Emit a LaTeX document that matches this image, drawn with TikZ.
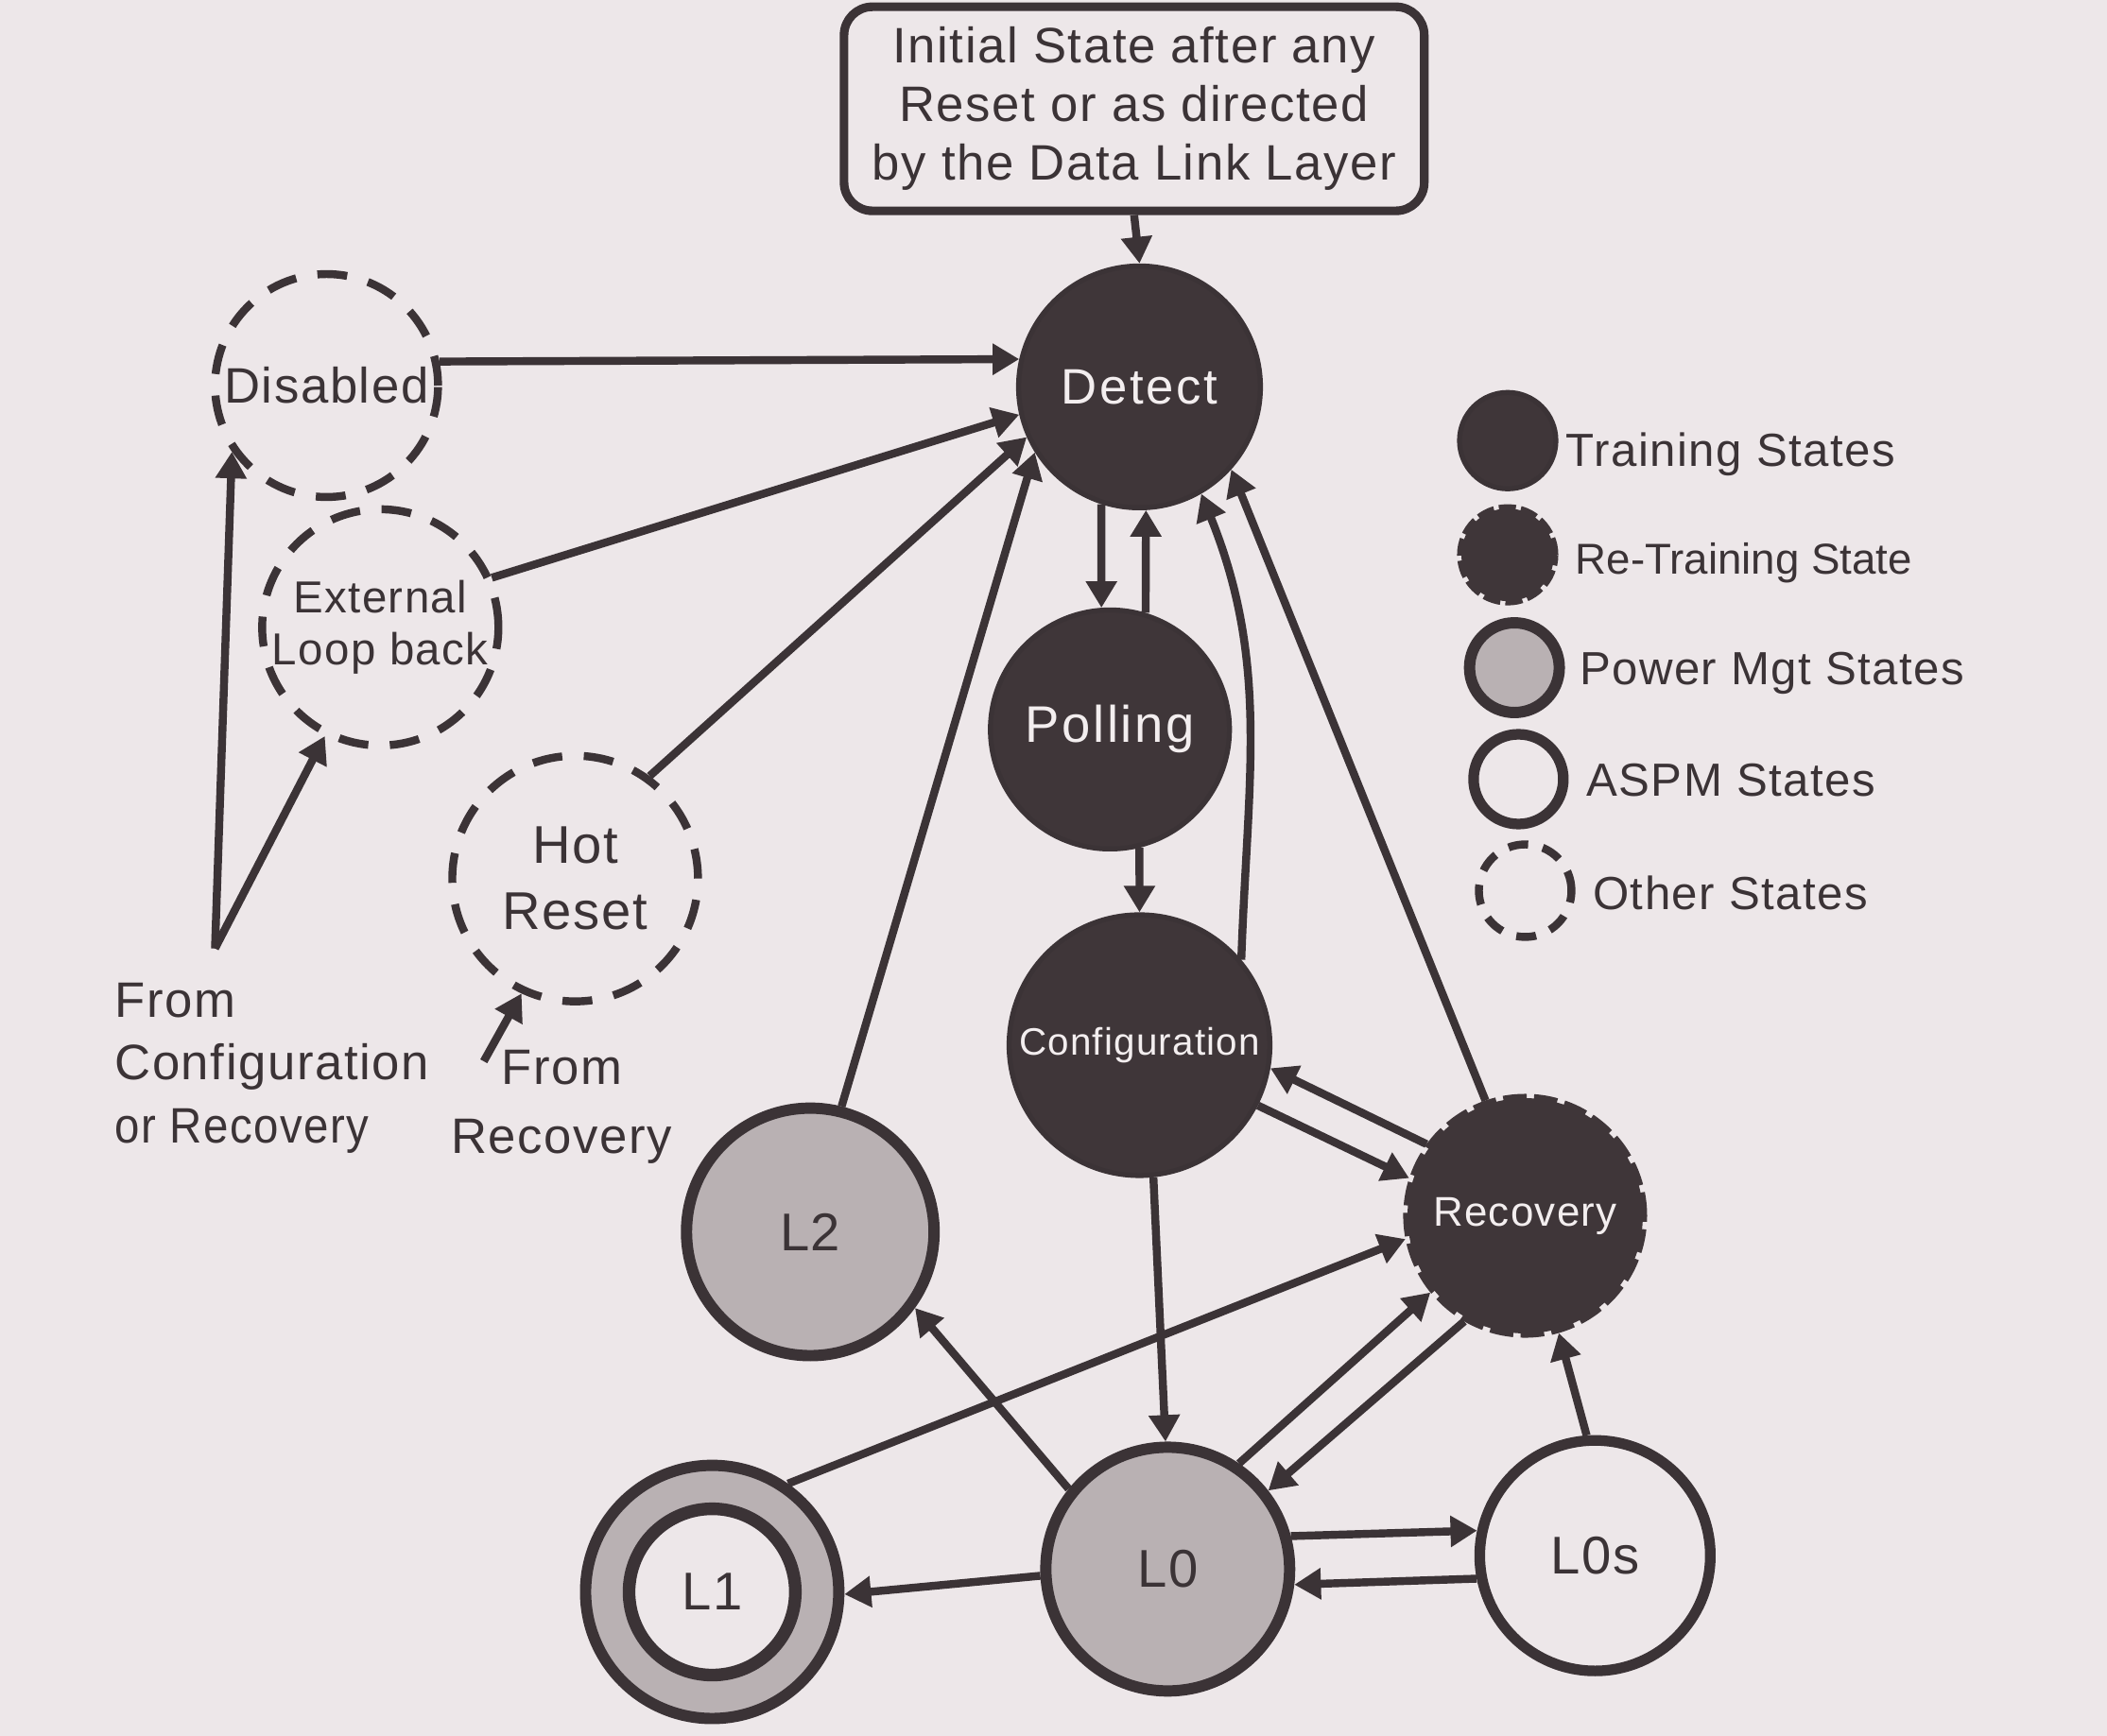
\documentclass[tikz,border=0pt]{standalone}
\usepackage{fontspec}
\setmainfont{Liberation Sans}[LetterSpace=3]
\usepackage{graphicx}
\usetikzlibrary{arrows.meta}
\definecolor{ink}{HTML}{3B3336}
\definecolor{darkfill}{HTML}{3F3639}
\definecolor{lightfill}{HTML}{B9B1B3}
\definecolor{paper}{HTML}{EDE7E9}
\definecolor{wtext}{HTML}{F3EEEF}
\newcommand{\myfs}[2]{\fontsize{#1}{#2}\selectfont}
\begin{document}
\begin{tikzpicture}[x=0.014216cm,y=-0.014216cm,
  every node/.style={text=ink},
  st/.style={circle, inner sep=0pt, draw=ink, align=center},
  train/.style={st, fill=darkfill, line width=1.5pt, text=wtext},
  retrain/.style={st, fill=darkfill, draw=darkfill, line width=2.6pt, dash pattern=on 7pt off 2.2pt, text=wtext},
  power/.style={st, fill=lightfill, line width=3.4pt},
  aspm/.style={st, fill=paper, line width=3.2pt},
  other/.style={st, line width=2.4pt, dash pattern=on 9pt off 6.5pt},
  arr/.style={draw=ink, line width=2.4pt, -{Triangle[length=8pt,width=9pt]}},
  legtext/.style={anchor=base west, inner sep=0pt, font=\myfs{14}{17}}
]
\fill[paper] (0,0) rectangle (1568,1292);
\useasboundingbox (0,0) rectangle (1568,1292);

% initial box
\node[draw=ink, line width=2.6pt, rounded corners=0.3cm, fill=paper,
      minimum width=6.14cm, minimum height=2.16cm, align=center,
      font=\myfs{15}{17.7}] (init) at (844,81)
      {Initial State after any\\Reset or as directed\\by the Data Link Layer};

% states
\node[train, minimum size=2.56cm, font=\myfs{15}{18}\addfontfeature{LetterSpace=5}] (det) at (848,288) {Detect};
\node[train, minimum size=2.53cm, font=\myfs{15.5}{18}\addfontfeature{LetterSpace=5}] (pol) at (826,543) {Polling};
\node[train, minimum size=2.76cm, font=\myfs{11.5}{14}] (conf) at (848,778) {Configuration};
\node[retrain, minimum size=2.49cm, font=\myfs{12.5}{15}] (rec) at (1135,905) {Recovery};
\node[power, minimum size=2.62cm, font=\myfs{16}{19}] (l2) at (603,917) {L2};
\node[power, minimum size=2.58cm, font=\myfs{16}{19}] (l0) at (869,1168) {L0};
\node[power, minimum size=2.68cm] (l1o) at (530,1185) {};
\node[aspm, line width=3.8pt, minimum size=1.76cm, font=\myfs{16}{19}] (l1) at (530,1185) {L1};
\node[aspm, minimum size=2.44cm, font=\myfs{16}{19}] (l0s) at (1187,1158) {L0s};
\node[other, minimum size=2.36cm, font=\myfs{15}{18}] (dis) at (243,287) {Disabled};
\node[other, minimum size=2.5cm, font=\myfs{13.5}{15.5}] (ext) at (283,467) {External\\Loop back};
\node[other, minimum size=2.6cm, font=\myfs{16}{20}] (hot) at (428,654) {Hot\\Reset};

% legend
\node[train, minimum size=1.02cm] (lg1) at (1122,328) {};
\node[retrain, minimum size=0.98cm, dash pattern=on 5pt off 1.5pt] (lg2) at (1122,413) {};
\node[power, minimum size=0.95cm] (lg3) at (1127,497) {};
\node[aspm, minimum size=0.95cm] (lg4) at (1130,580) {};
\node[other, minimum size=0.98cm, dash pattern=on 6pt off 4.5pt] (lg5) at (1135,663) {};
\node[legtext] (lt1) at (1165,347) {Training States};
\node[legtext, font=\myfs{13}{16}, inner sep=0pt] (lt2) at (1172,427) {\addfontfeature{LetterSpace=0}Re-Training State};
\node[legtext] (lt3) at (1175,510) {Power Mgt States};
\node[legtext] (lt4) at (1180,593) {ASPM States};
\node[legtext] (lt5) at (1185,677) {Other States};

% free labels
\node[anchor=north west, align=left, inner sep=0pt, font=\myfs{15}{19}] (fromcr) at (85,731)
  {From\\Configuration\\\scalebox{0.9}[1]{or Recovery}};
\node[anchor=north, align=center, inner sep=0pt, font=\myfs{15}{21}] (fromr) at (418,781)
  {From\\Recovery};
\coordinate (fc) at (160,706);
\coordinate (fr) at (360,790);

% connectors
\draw[arr] (init.south) -- (det.north);
\draw[arr] (dis.12) -- (det.167);
\draw[arr] (ext.24) -- (det.193);
\draw[arr] (hot.54) -- (det.204);
\draw[arr] (l2.76) -- (det.212);
\draw[arr] (det.252) -- (pol.94);
\draw[arr] (pol.73) -- (det.273);
\draw[arr] (pol.284) -- (conf.north);
\draw[arr] (conf.40) to[out=88,in=-68] (det.300);
\draw[arr] (rec.109) -- (det.318);
\draw[arr] (conf.276) -- (l0.91);
\draw[arr] (rec.144) -- (conf.350);
\draw[arr] (conf.333) -- (rec.162);
\draw[arr] (l1o.55) -- (rec.191);
\draw[arr] (l0.141) -- (l2.324);
\draw[arr] (l0.56) -- (rec.219);
\draw[arr] (rec.240) -- (l0.38);
\draw[arr] (l0s.94) -- (rec.286);
\draw[arr] (l0.15) -- (l0s.168);
\draw[arr] (l0s.191) -- (l0.353);
\draw[arr] (l0.183) -- (l1o.359);
\draw[arr] (fc) -- (dis.215);
\draw[arr] (fc) -- (ext.243);
\draw[arr] (fr) -- (hot.245);
\end{tikzpicture}
\end{document}
